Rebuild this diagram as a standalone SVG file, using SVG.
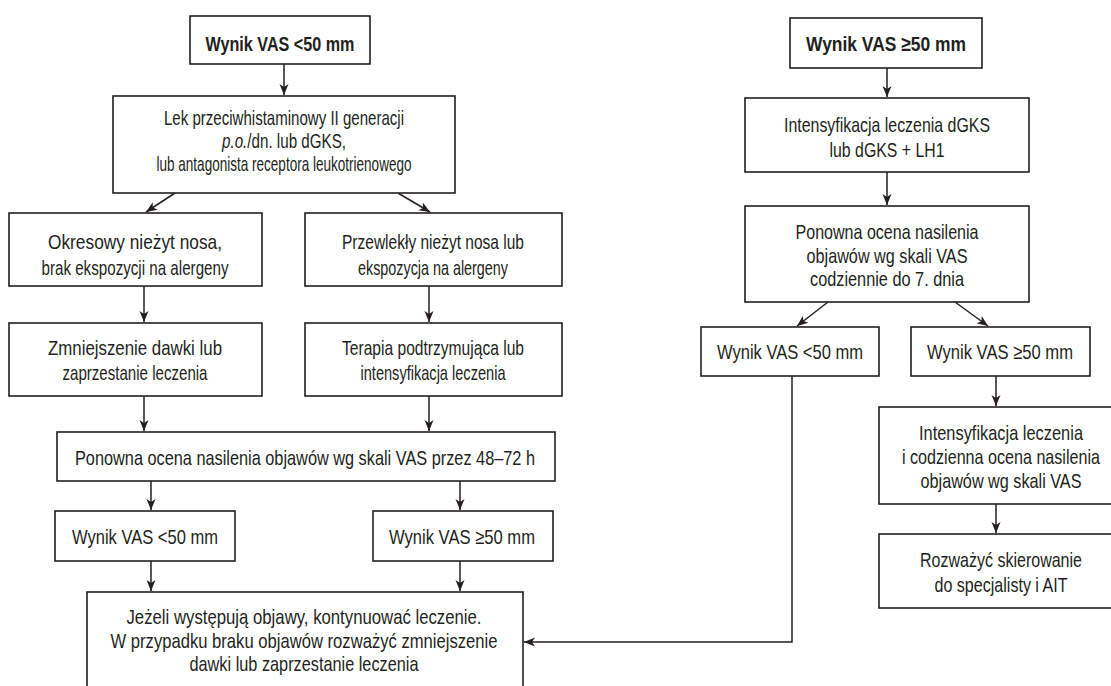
<svg xmlns="http://www.w3.org/2000/svg" width="1111" height="686" viewBox="0 0 1111 686">
<style>
.box{fill:#fff;stroke:#231f20;stroke-width:1.6}
.t{font-family:'Liberation Sans Narrow','Liberation Sans',Arial,sans-serif;font-size:21px;fill:#231f20;text-anchor:middle}
.b{font-weight:bold}
.c{fill:none;stroke:#231f20;stroke-width:1.5}
</style>
<defs>
<marker id="ah" markerUnits="userSpaceOnUse" markerWidth="12" markerHeight="12" viewBox="0 0 12 12" refX="11" refY="6" orient="auto">
<path d="M0,1.5 L11,6 L0,10.5 L3,6 Z" fill="#231f20"/>
</marker>
</defs>
<rect width="1111" height="686" fill="#fff"/>
<g id="connectors">
<path class="c" d="M284,64 V95" marker-end="url(#ah)"/>
<path class="c" d="M175,193 L146,212" marker-end="url(#ah)"/>
<path class="c" d="M398,193 L430,212" marker-end="url(#ah)"/>
<path class="c" d="M144,286 V322" marker-end="url(#ah)"/>
<path class="c" d="M429,286 V322" marker-end="url(#ah)"/>
<path class="c" d="M144,396 V431" marker-end="url(#ah)"/>
<path class="c" d="M429,396 V431" marker-end="url(#ah)"/>
<path class="c" d="M151,481 V510" marker-end="url(#ah)"/>
<path class="c" d="M460,481 V510" marker-end="url(#ah)"/>
<path class="c" d="M151,561 V591" marker-end="url(#ah)"/>
<path class="c" d="M460,561 V591" marker-end="url(#ah)"/>
<path class="c" d="M887,68 V97" marker-end="url(#ah)"/>
<path class="c" d="M887,172 V205" marker-end="url(#ah)"/>
<path class="c" d="M828,302 L797,326" marker-end="url(#ah)"/>
<path class="c" d="M955,302 L988,326" marker-end="url(#ah)"/>
<path class="c" d="M996,376 V406" marker-end="url(#ah)"/>
<path class="c" d="M996,504 V533" marker-end="url(#ah)"/>
<path class="c" d="M792,376 V642 H524" marker-end="url(#ah)"/>
</g>
<g id="n1"><rect class="box" x="190" y="16" width="180" height="48"/>
<text class="t b" x="280" y="51" textLength="149" lengthAdjust="spacingAndGlyphs">Wynik VAS &lt;50 mm</text></g>
<g id="n2"><rect class="box" x="113" y="96" width="342" height="97"/>
<text class="t" x="284" y="125" textLength="240" lengthAdjust="spacingAndGlyphs">Lek przeciwhistaminowy II generacji</text>
<text class="t" x="284" y="148" textLength="124" lengthAdjust="spacingAndGlyphs"><tspan font-style="italic">p.o.</tspan>/dn. lub dGKS,</text>
<text class="t" x="284" y="171" textLength="255" lengthAdjust="spacingAndGlyphs">lub antagonista receptora leukotrienowego</text></g>
<g id="n3"><rect class="box" x="9" y="213" width="253" height="73"/>
<text class="t" x="135" y="249" textLength="174" lengthAdjust="spacingAndGlyphs">Okresowy nieżyt nosa,</text>
<text class="t" x="135" y="275" textLength="187" lengthAdjust="spacingAndGlyphs">brak ekspozycji na alergeny</text></g>
<g id="n4"><rect class="box" x="305" y="213" width="257" height="73"/>
<text class="t" x="433" y="249" textLength="182" lengthAdjust="spacingAndGlyphs">Przewlekły nieżyt nosa lub</text>
<text class="t" x="433" y="275" textLength="150" lengthAdjust="spacingAndGlyphs">ekspozycja na alergeny</text></g>
<g id="n5"><rect class="box" x="9" y="323" width="253" height="73"/>
<text class="t" x="135" y="355" textLength="174" lengthAdjust="spacingAndGlyphs">Zmniejszenie dawki lub</text>
<text class="t" x="135" y="380" textLength="145" lengthAdjust="spacingAndGlyphs">zaprzestanie leczenia</text></g>
<g id="n6"><rect class="box" x="305" y="323" width="257" height="73"/>
<text class="t" x="433" y="355" textLength="182" lengthAdjust="spacingAndGlyphs">Terapia podtrzymująca lub</text>
<text class="t" x="433" y="380" textLength="145" lengthAdjust="spacingAndGlyphs">intensyfikacja leczenia</text></g>
<g id="n7"><rect class="box" x="57" y="432" width="498" height="49"/>
<text class="t" x="305" y="465" textLength="460" lengthAdjust="spacingAndGlyphs">Ponowna ocena nasilenia objawów wg skali VAS przez 48–72 h</text></g>
<g id="n8"><rect class="box" x="55" y="511" width="180" height="50"/>
<text class="t" x="145" y="544" textLength="146" lengthAdjust="spacingAndGlyphs">Wynik VAS &lt;50 mm</text></g>
<g id="n9"><rect class="box" x="373" y="511" width="180" height="50"/>
<text class="t" x="462" y="544" textLength="146" lengthAdjust="spacingAndGlyphs">Wynik VAS ≥50 mm</text></g>
<g id="n10"><rect class="box" x="87" y="592" width="436" height="110"/>
<text class="t" x="304" y="624" textLength="355" lengthAdjust="spacingAndGlyphs">Jeżeli występują objawy, kontynuować leczenie.</text>
<text class="t" x="304" y="648" textLength="387" lengthAdjust="spacingAndGlyphs">W przypadku braku objawów rozważyć zmniejszenie</text>
<text class="t" x="304" y="671" textLength="229" lengthAdjust="spacingAndGlyphs">dawki lub zaprzestanie leczenia</text></g>
<g id="r1"><rect class="box" x="790" y="18" width="192" height="50"/>
<text class="t b" x="886" y="51" textLength="160" lengthAdjust="spacingAndGlyphs">Wynik VAS ≥50 mm</text></g>
<g id="r2"><rect class="box" x="745" y="98" width="284" height="74"/>
<text class="t" x="887" y="132" textLength="206" lengthAdjust="spacingAndGlyphs">Intensyfikacja leczenia dGKS</text>
<text class="t" x="887" y="157" textLength="115" lengthAdjust="spacingAndGlyphs">lub dGKS + LH1</text></g>
<g id="r3"><rect class="box" x="745" y="206" width="284" height="96"/>
<text class="t" x="887" y="239" textLength="183" lengthAdjust="spacingAndGlyphs">Ponowna ocena nasilenia</text>
<text class="t" x="887" y="263" textLength="161" lengthAdjust="spacingAndGlyphs">objawów wg skali VAS</text>
<text class="t" x="887" y="286" textLength="154" lengthAdjust="spacingAndGlyphs">codziennie do 7. dnia</text></g>
<g id="r4"><rect class="box" x="701" y="327" width="178" height="49"/>
<text class="t" x="790" y="359" textLength="146" lengthAdjust="spacingAndGlyphs">Wynik VAS &lt;50 mm</text></g>
<g id="r5"><rect class="box" x="911" y="327" width="179" height="49"/>
<text class="t" x="1000" y="359" textLength="146" lengthAdjust="spacingAndGlyphs">Wynik VAS ≥50 mm</text></g>
<g id="r6"><rect class="box" x="879" y="407" width="244" height="97"/>
<text class="t" x="1001" y="440" textLength="164" lengthAdjust="spacingAndGlyphs">Intensyfikacja leczenia</text>
<text class="t" x="1001" y="464" textLength="198" lengthAdjust="spacingAndGlyphs">i codzienna ocena nasilenia</text>
<text class="t" x="1001" y="488" textLength="161" lengthAdjust="spacingAndGlyphs">objawów wg skali VAS</text></g>
<g id="r7"><rect class="box" x="879" y="534" width="244" height="74"/>
<text class="t" x="1001" y="567" textLength="162" lengthAdjust="spacingAndGlyphs">Rozważyć skierowanie</text>
<text class="t" x="1001" y="592" textLength="133" lengthAdjust="spacingAndGlyphs">do specjalisty i AIT</text></g>
</svg>
